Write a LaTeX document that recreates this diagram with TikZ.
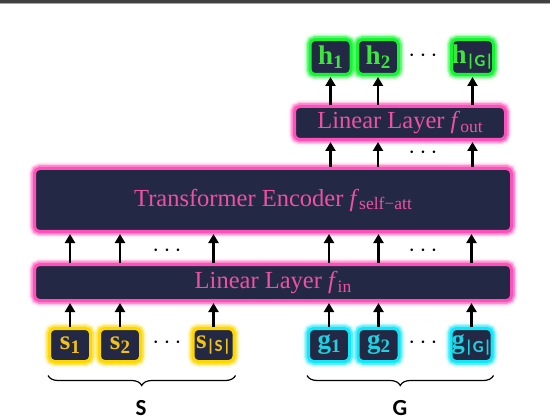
\documentclass[tikz,border=0pt]{standalone}
\usepackage{fontspec}
\setmainfont{Liberation Serif}
\newfontfamily\cfont{Carlito}
\usetikzlibrary{arrows.meta,decorations.pathreplacing,calc}
\definecolor{navy}{RGB}{35,41,69}
\definecolor{pinkb}{RGB}{255,80,185}
\definecolor{pinkt}{RGB}{238,80,165}
\definecolor{yelb}{RGB}{255,215,0}
\definecolor{yelt}{RGB}{242,195,20}
\definecolor{cyab}{RGB}{20,230,250}
\definecolor{cyat}{RGB}{30,210,225}
\definecolor{greb}{RGB}{20,245,50}
\definecolor{gret}{RGB}{60,230,60}
\newcommand\lbl[2]{\textbf{#1}\raisebox{-0.3ex}{\fontsize{19}{19}\selectfont\bfseries #2}}
\newcommand\lblc[2]{\textbf{#1}\raisebox{-0.3ex}{\fontsize{17}{17}\selectfont\cfont\bfseries #2}}
\newcommand\fsub[1]{\textit{f}\raisebox{-0.35ex}{\fontsize{17.5}{17.5}\selectfont #1}}
\tikzset{
  glowbox/.style={rounded corners=5pt, fill=navy, draw=#1, line width=3pt,
    inner sep=0pt,
    preaction={draw=#1, line width=12pt, opacity=0.10},
    preaction={draw=#1, line width=9pt, opacity=0.25},
    preaction={draw=#1, line width=6.5pt, opacity=0.5}},
  smallbox/.style={glowbox=#1, minimum width=41pt, minimum height=33pt,
    font=\fontsize{27}{27}\selectfont\bfseries},
  sbox/.style={smallbox=yelb, text=yelt},
  gbox/.style={smallbox=cyab, text=cyat},
  hbox/.style={smallbox=greb, text=gret, minimum height=35pt},
  layerbox/.style={glowbox=pinkb, text=pinkt, font=\fontsize{24.5}{24.5}\selectfont},
  arr/.style={line width=2.6pt, -{Triangle[width=10pt,length=9pt]}, shorten >=1pt},
  dotsn/.style={font=\fontsize{28}{28}\selectfont, inner sep=0pt},
  brc/.style={decorate, decoration={brace, amplitude=10pt, mirror}, line width=1.2pt},
  setlbl/.style={font=\fontsize{23}{23}\selectfont\cfont\bfseries, inner sep=0pt}
}
\begin{document}
\begin{tikzpicture}[x=1pt,y=-1pt]
\useasboundingbox (0,0) rectangle (550,420);
\fill[black!75] (0,0) rectangle (550,3.2);
\fill[black!35] (0,3.2) rectangle (550,4);
% input boxes
\node[sbox] (s1) at (70,345) {\lbl{s}{1}};
\node[sbox] (s2) at (120,345) {\lbl{s}{2}};
\node[sbox] (sS) at (213.5,345) {\lblc{s}{|S|}};
\node[gbox] (g1) at (329,345) {\lbl{g}{1}};
\node[gbox] (g2) at (378.5,345) {\lbl{g}{2}};
\node[gbox] (gG) at (471.5,345) {\lblc{g}{|G|}};
\node[dotsn] (d1) at (167,343) {$\cdots$};
\node[dotsn] (d2) at (423,343) {$\cdots$};
% layers
\node[layerbox, minimum width=477pt, minimum height=36pt] (fin) at (273,282.5) {Linear Layer \fsub{in}};
\node[layerbox, minimum width=477pt, minimum height=63pt] (tr) at (273,200) {Transformer Encoder \fsub{self−att}};
\node[layerbox, minimum width=211pt, minimum height=33pt] (fout) at (400,123) {Linear Layer \fsub{out}};
\node[dotsn] (d3) at (167,251) {$\cdots$};
\node[dotsn] (d4) at (423,251) {$\cdots$};
\node[dotsn] (d5) at (423,153) {$\cdots$};
% outputs
\node[hbox] (h1) at (330.5,57) {\lbl{h}{1}};
\node[hbox] (h2) at (378,57) {\lbl{h}{2}};
\node[hbox] (hG) at (472.5,57) {\lblc{h}{|G|}};
\node[dotsn] (d6) at (423,56) {$\cdots$};
% arrows
\foreach \n in {s1,s2,sS,g1,g2,gG}{
  \draw[arr] (\n.north) -- (\n.north |- fin.south);
  \draw[arr] (\n.north |- fin.north) -- (\n.north |- tr.south);
}
\foreach \n in {h1,h2,hG}{
  \draw[arr] (\n.south |- tr.north) -- (\n.south |- fout.south);
  \draw[arr] (\n.south |- fout.north) -- (\n.south);
}
% braces
\coordinate (bl1) at ($(s1.south west)+(0,12.5)$);
\coordinate (br1) at ($(sS.south east)+(0,12.5)$);
\coordinate (bl2) at ($(g1.south west)+(0,12.5)$);
\coordinate (br2) at ($(gG.south east)+(0,12.5)$);
\draw[brc] (bl1) -- (br1);
\draw[brc] (bl2) -- (br2);
\node[setlbl] (S) at (141,408) {S};
\node[setlbl] (G) at (400,408) {G};
\end{tikzpicture}
\end{document}
